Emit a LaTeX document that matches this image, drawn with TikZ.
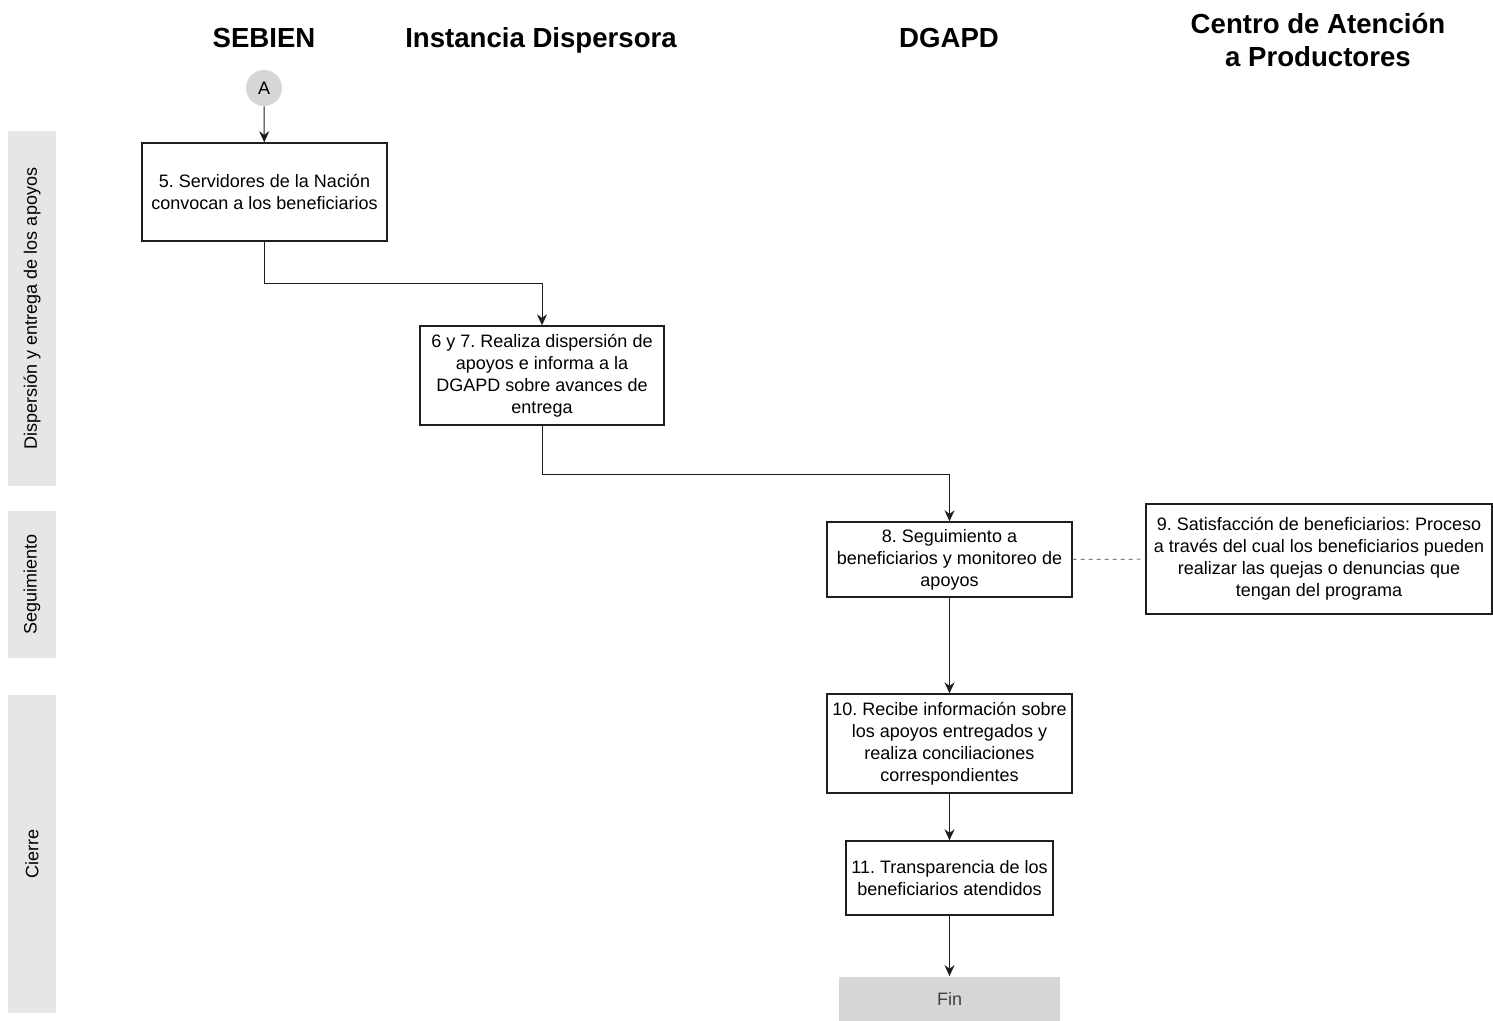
\documentclass[tikz,border=0pt]{standalone}
\usepackage{fontspec}
\setmainfont{Liberation Sans}
\usetikzlibrary{arrows.meta,positioning}
\definecolor{lane}{RGB}{230,230,230}
\definecolor{term}{RGB}{214,214,214}
\definecolor{wire}{RGB}{30,30,30}
\tikzset{
  stepbox/.style={draw=wire,line width=0.7pt,align=center,inner sep=1.5pt,
    font=\fontsize{9}{11}\selectfont},
  lanebox/.style={fill=lane,rotate=90,minimum height=24pt,inner sep=0pt,
    font=\fontsize{9}{11}\selectfont},
  head/.style={align=center,font=\fontsize{13.8}{16.5}\selectfont\bfseries},
  arr/.style={draw=wire,line width=0.5pt,-{Stealth[length=5.5pt,width=5pt]}}
}
\begin{document}
\frenchspacing
\begin{tikzpicture}[x=0.5pt,y=-0.5pt]
  \useasboundingbox (0,0) rectangle (1493,1021);
  % headers
  \foreach \n/\x/\t in {h1/264/SEBIEN,h2/541/Instancia Dispersora,h3/949/DGAPD}
    \node[head,anchor=base] (\n) at (\x,47.5) {\t};
  \node[head] (h4) at (1318,40) {Centro de Atención\\a Productores};
  % lanes
  \node[lanebox,minimum width=177.5pt] (l1) at (32,308.5) {Dispersión y entrega de los apoyos};
  \node[lanebox,minimum width=73.5pt] (l2) at (32,584.5) {Seguimiento};
  \node[lanebox,minimum width=159pt] (l3) at (32,854) {Cierre};
  % steps
  \node[circle,fill=term,minimum size=18pt,inner sep=0pt,
    font=\fontsize{9}{11}\selectfont] (a) at (264,88) {A};
  \node[stepbox,minimum width=122.5pt,minimum height=49pt] (s5) at (264.5,192)
    {5. Servidores de la Nación\\convocan a los beneficiarios};
  \node[stepbox,minimum width=122pt,minimum height=49.5pt] (s6) at (542,375.5)
    {6 y 7. Realiza dispersión de\\apoyos e informa a la\\DGAPD sobre avances de\\entrega};
  \node[stepbox,minimum width=122.5pt,minimum height=37.5pt] (s8) at (949.5,559.5)
    {8. Seguimiento a\\beneficiarios y monitoreo de\\apoyos};
  \node[stepbox,minimum width=173pt,minimum height=55pt] (s9) at (1319,559)
    {9. Satisfacción de beneficiarios: Proceso\\a través del cual los beneficiarios pueden\\realizar las quejas o denuncias que\\tengan del programa};
  \node[stepbox,minimum width=122.5pt,minimum height=49.5pt] (s10) at (949.5,743.5)
    {10. Recibe información sobre\\los apoyos entregados y\\realiza conciliaciones\\correspondientes};
  \node[stepbox,minimum width=103.5pt,minimum height=37pt] (s11) at (949.5,878)
    {11. Transparencia de los\\beneficiarios atendidos};
  \node[fill=term,minimum width=110.5pt,minimum height=22.5pt,inner sep=0pt,
    text=black!75,font=\fontsize{9}{11}\selectfont] (fin) at (949.5,999) {Fin};
  % connectors
  \coordinate (k1) at (0,284);
  \coordinate (k2) at (0,474);
  \draw[arr] (a) -- (s5);
  \draw[arr] (s5.south) -- (s5.south |- k1) -| (s6.north);
  \draw[arr] (s6.south) -- (s6.south |- k2) -| (s8.north);
  \draw[arr] (s8) -- (s10);
  \draw[arr] (s10) -- (s11);
  \draw[arr] (s11) -- (fin);
  \draw[gray,line width=0.5pt,dash pattern=on 2pt off 2pt] (s8) -- (s9);
\end{tikzpicture}
\end{document}
